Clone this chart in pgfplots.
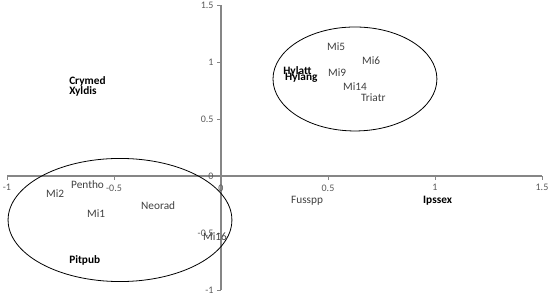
\documentclass[border=0pt]{standalone}
\usepackage{fontspec}
\setmainfont{Carlito}
\usepackage{pgfplots}
\pgfplotsset{compat=1.18}
\usepackage{pgfplotstable}

\definecolor{axisgray}{HTML}{868686}
\definecolor{ticktext}{HTML}{595959}
\definecolor{labeltext}{HTML}{404040}

% species / sample scores (label placed to the right of each point)
\pgfplotstableread{
x y label
0.481 1.132 Mi5
0.645 1.009 Mi6
0.486 0.904 Mi9
0.556 0.781 Mi14
0.640 0.684 Triatr
-0.715 -0.079 Pentho
-0.832 -0.158 Mi2
-0.640 -0.333 Mi1
-0.388 -0.263 Neorad
-0.098 -0.535 Mi16
0.313 -0.219 Fusspp
}\plainpts

\pgfplotstableread{
x y label
0.276 0.921 Hylatt
0.285 0.860 Hylang
-0.724 0.833 Crymed
-0.724 0.746 Xyldis
-0.724 -0.737 Pitpub
0.930 -0.219 Ipssex
}\boldpts

\begin{document}
\begin{tikzpicture}
\begin{axis}[
  scale only axis,
  width=535pt, height=285pt,
  xmin=-1, xmax=1.5, ymin=-1, ymax=1.5,
  axis lines=middle,
  axis line style={draw=axisgray, line width=1.2pt, -},
  hide obscured x ticks=false,
  hide obscured y ticks=false,
  xtick={-1,-0.5,0,0.5,1,1.5},
  xticklabels={-1,-0.5,0,0.5,1,1.5},
  ytick={-1,-0.5,0,0.5,1,1.5},
  yticklabels={-1,-0.5,0,0.5,1,1.5},
  tick align=outside,
  major tick length=4pt,
  tick style={draw=axisgray, line width=0.8pt},
  ticklabel style={font=\fontsize{10}{12}\selectfont, text=ticktext},
  xticklabel style={yshift=-1pt},
  clip=false,
]
\addplot[only marks, mark=none, nodes near coords,
  point meta=explicit symbolic,
  every node near coord/.style={anchor=west, inner sep=3pt,
    font=\fontsize{11.3}{13}\selectfont, text=labeltext}]
  table[x=x, y=y, meta=label] {\plainpts};
\addplot[only marks, mark=none, nodes near coords,
  point meta=explicit symbolic,
  every node near coord/.style={anchor=west, inner sep=3pt,
    font=\fontsize{11.3}{13}\selectfont\bfseries, text=black}]
  table[x=x, y=y, meta=label] {\boldpts};
\draw[black, line width=0.8pt] (axis cs:0.626,0.851) ellipse [x radius=0.383, y radius=0.456];
\draw[black, line width=0.8pt] (axis cs:-0.472,-0.386) ellipse [x radius=0.523, y radius=0.54];
\end{axis}
\pgfresetboundingbox
\path[use as bounding box] (-7pt,-6pt) rectangle (543pt,290pt);
\end{tikzpicture}
\end{document}
